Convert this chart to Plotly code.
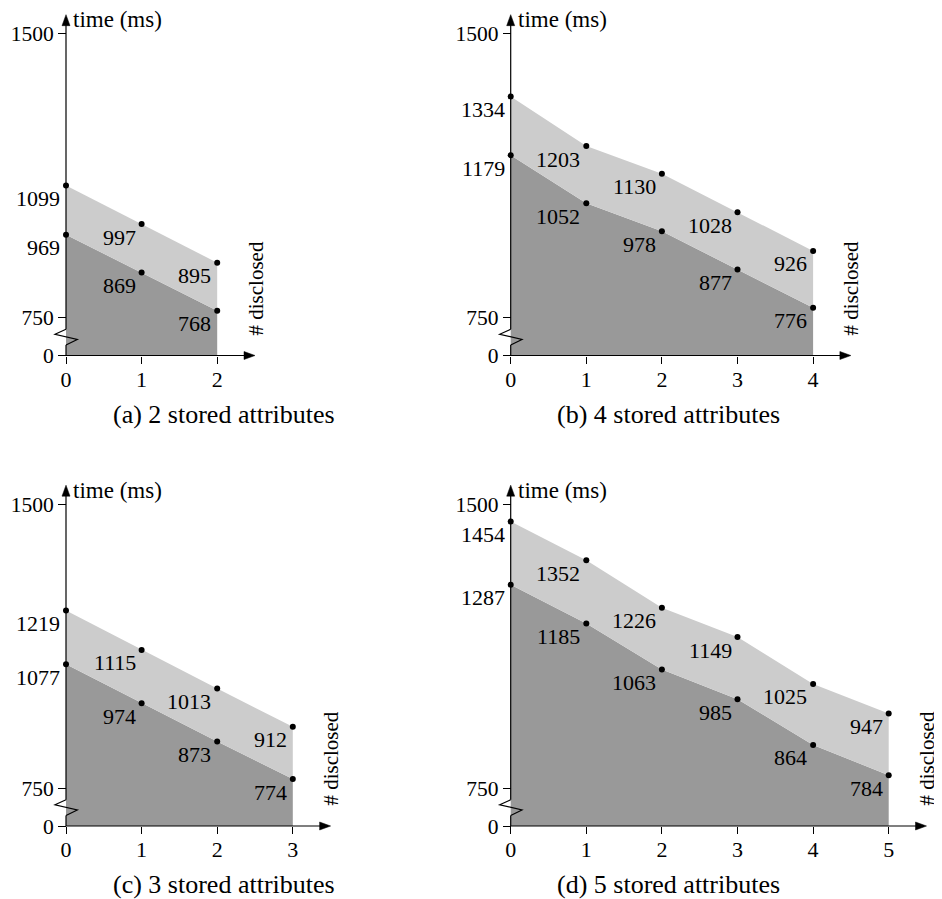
import plotly.graph_objects as go

# ---------------- data ----------------
captions = ["(a) 2 stored attributes", "(b) 4 stored attributes",
            "(c) 3 stored attributes", "(d) 5 stored attributes"]
a_upper = [1099, 997, 895]
a_lower = [969, 869, 768]
b_upper = [1334, 1203, 1130, 1028, 926]
b_lower = [1179, 1052, 978, 877, 776]
c_upper = [1219, 1115, 1013, 912]
c_lower = [1077, 974, 873, 774]
d_upper = [1454, 1352, 1226, 1149, 1025, 947]
d_lower = [1287, 1185, 1063, 985, 864, 784]
y_tick_values = [0, 750, 1500]
y_title = "time (ms)"
x_title = "# disclosed"

# ---------------- geometry / style ----------------
W, H = 942, 899
OFF = 8          # page body margin
PXX = 75.6       # px per x unit
PXY = 0.3787     # px per ms
BREAK_AT = 750
BREAK_GAP = 100  # axis units used for the compressed 0..750 part
Y_TOP = 1550     # arrow tip value
FONT = "Liberation Serif, Times New Roman, DejaVu Serif, serif"
DARK = "#999999"
LIGHT = "#cccccc"
LW = 1.2


def u(v):
    return v - BREAK_AT + BREAK_GAP if v >= BREAK_AT else v * BREAK_GAP / BREAK_AT


# (upper, lower, axis origin px (ref), column px (fig), row px (fig), caption centre (ref))
panels = [
    (a_upper, a_lower, (66.0, 355.5), (0, 426), (0, 428), (224, 414)),
    (b_upper, b_lower, (510.7, 355.5), (430, 942), (0, 428), (668, 414)),
    (c_upper, c_lower, (66.0, 826.0), (0, 426), (432, 899), (224, 884)),
    (d_upper, d_lower, (510.7, 826.0), (430, 942), (432, 899), (668, 884)),
]

fig = go.Figure()
layout = dict(width=W, height=H, margin=dict(l=0, r=0, t=0, b=0),
              paper_bgcolor="white", plot_bgcolor="rgba(0,0,0,0)",
              showlegend=False, font=dict(family=FONT, color="black", size=21))
shapes = []
annotations = []

for k, (upper, lower, (axx, axy), (c0, c1), (r0, r1), (capx, capy)) in enumerate(panels):
    axx -= OFF
    axy -= OFF
    capx -= OFF
    capy -= OFF
    idx = "" if k == 0 else str(k + 1)
    xa, ya = "x" + idx, "y" + idx
    n = len(upper) - 1
    xs = list(range(n + 1))
    up_u = [u(v) for v in upper]
    lo_u = [u(v) for v in lower]

    fig.add_trace(go.Scatter(x=xs, y=lo_u, mode="lines", line=dict(width=0, color=DARK),
                             fill="tozeroy", fillcolor=DARK, hoverinfo="skip",
                             xaxis=xa, yaxis=ya))
    fig.add_trace(go.Scatter(x=xs, y=up_u, mode="lines", line=dict(width=0, color=LIGHT),
                             fill="tonexty", fillcolor=LIGHT, hoverinfo="skip",
                             xaxis=xa, yaxis=ya))
    fig.add_trace(go.Scatter(x=xs + xs, y=up_u + lo_u, mode="markers",
                             marker=dict(size=6, color="black"), hoverinfo="skip",
                             xaxis=xa, yaxis=ya, cliponaxis=False))

    layout["xaxis" + idx] = dict(
        domain=[c0 / W, c1 / W], range=[(c0 - axx) / PXX, (c1 - axx) / PXX],
        anchor="free", position=1 - axy / H, showline=False, showgrid=False,
        zeroline=False, tickvals=xs, ticks="outside", ticklen=7, tickwidth=LW,
        tickcolor="black", ticklabelstandoff=-3,
        tickfont=dict(family=FONT, size=22, color="black"))
    layout["yaxis" + idx] = dict(
        domain=[1 - r1 / H, 1 - r0 / H], range=[(axy - r1) / PXY, (axy - r0) / PXY],
        anchor="free", position=axx / W, showline=False, showgrid=False,
        zeroline=False, tickvals=[u(v) for v in y_tick_values],
        ticktext=[str(v) for v in y_tick_values], ticks="outside", ticklen=8,
        tickwidth=LW, tickcolor="black",
        tickfont=dict(family=FONT, size=21.5, color="black"))

    # value labels (below-left of each point)
    for series, su in ((upper, up_u), (lower, lo_u)):
        for i, (v, yy) in enumerate(zip(series, su)):
            annotations.append(dict(x=i, y=yy, xref=xa, yref=ya, text=str(v),
                                    showarrow=False, xanchor="right", yanchor="middle",
                                    xshift=-4, yshift=-13,
                                    font=dict(family=FONT, size=22, color="black")))

    x_tip = n + 0.5
    y_tip = u(Y_TOP)
    line = dict(color="black", width=LW)
    # x-axis line + arrowhead
    shapes.append(dict(type="line", xref=xa, yref=ya, x0=0, y0=0,
                       x1=x_tip - 10 / PXX, y1=0, line=line, layer="above"))
    shapes.append(dict(type="path", xref=xa, yref=ya, xsizemode="pixel", ysizemode="pixel",
                       xanchor=x_tip, yanchor=0, path="M0,0 L-11,4 L-11,-4 Z",
                       fillcolor="black", line=dict(color="black", width=0.5), layer="above"))
    # y-axis with break
    shapes.append(dict(type="line", xref=xa, yref=ya, x0=0, y0=0, x1=0, y1=10.5 / PXY,
                       line=line, layer="above"))
    shapes.append(dict(type="path", xref=xa, yref=ya, xsizemode="pixel", ysizemode="pixel",
                       xanchor=0, yanchor=0, path="M0,10.5 L11.3,16 L-11,21.2 L0,26.2",
                       line=line, layer="above"))
    shapes.append(dict(type="line", xref=xa, yref=ya, x0=0, y0=26.2 / PXY, x1=0,
                       y1=y_tip - 10 / PXY, line=line, layer="above"))
    shapes.append(dict(type="path", xref=xa, yref=ya, xsizemode="pixel", ysizemode="pixel",
                       xanchor=0, yanchor=y_tip, path="M0,0 L-4,-11 L4,-11 Z",
                       fillcolor="black", line=dict(color="black", width=0.5), layer="above"))

    annotations.append(dict(x=0, y=y_tip, xref=xa, yref=ya, text=y_title, showarrow=False,
                            xanchor="left", yanchor="middle", xshift=5, yshift=-5,
                            font=dict(family=FONT, size=23, color="black")))
    annotations.append(dict(x=x_tip, y=0, xref=xa, yref=ya, text=x_title, showarrow=False,
                            textangle=-90, xanchor="center", yanchor="bottom", yshift=18,
                            font=dict(family=FONT, size=21, color="black")))
    annotations.append(dict(x=capx / W, y=1 - capy / H, xref="paper", yref="paper",
                            text=captions[k], showarrow=False, xanchor="center",
                            yanchor="middle", font=dict(family=FONT, size=26, color="black")))

layout["shapes"] = shapes
layout["annotations"] = annotations
fig.update_layout(**layout)
fig.write_html("out.html")
